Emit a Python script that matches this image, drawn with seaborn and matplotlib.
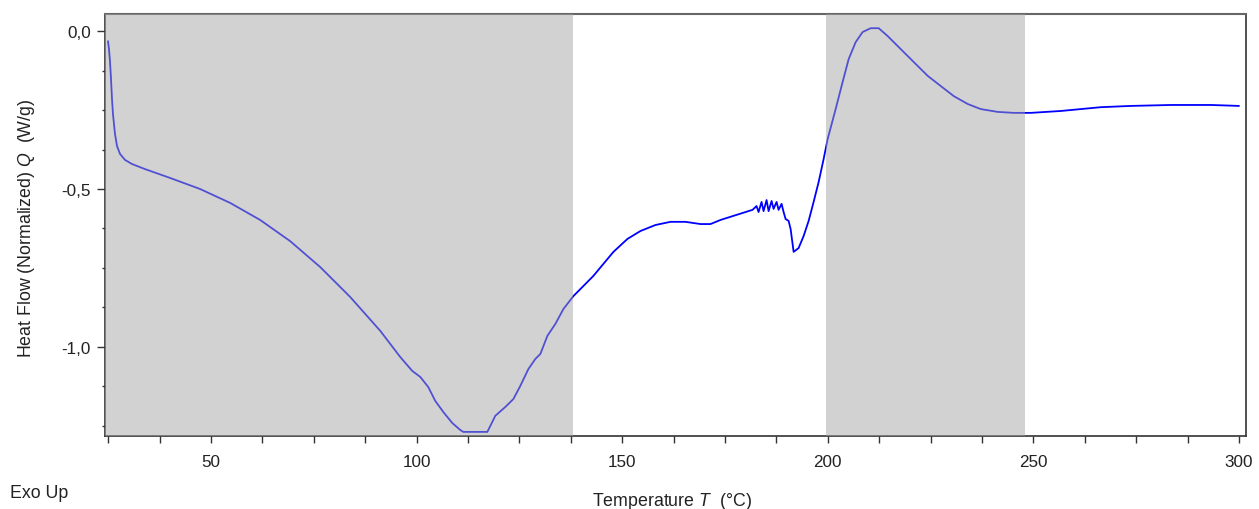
import matplotlib
matplotlib.use("Agg")
import matplotlib.pyplot as plt
import matplotlib.ticker as mticker
import seaborn as sns
import pandas as pd

# ---- data ----
temperature = [24.93, 25.17, 25.41, 25.66, 25.90, 26.14, 26.63, 27.12, 27.85, 29.07,
               30.77, 33.93, 40.02, 47.32, 54.63, 61.93, 69.23, 76.53, 83.84, 91.14,
               96.01, 98.93, 100.88, 102.82, 104.53, 106.48, 108.67, 110.61, 111.34, 117.19,
               119.13, 121.57, 123.52, 125.22, 127.17, 128.87, 130.09, 131.79, 133.74, 135.69,
               138.12, 140.56, 142.99, 145.42, 147.86, 151.27, 154.43, 158.08, 161.73, 165.38,
               169.03, 171.46, 173.90, 177.06, 179.98, 181.69, 182.66, 183.15, 183.88, 184.37,
               185.10, 185.59, 186.32, 186.80, 187.53, 188.02, 188.75, 189.24, 189.73, 190.46,
               190.95, 191.68, 192.89, 194.11, 195.33, 196.54, 197.76, 198.98, 199.95, 201.90,
               203.60, 205.06, 206.77, 208.47, 210.42, 212.37, 214.56, 217.72, 220.89, 224.30,
               227.46, 230.63, 234.03, 237.20, 241.33, 245.23, 249.37, 256.67, 266.41, 273.71,
               283.45, 293.18, 300.00]
heat_flow = [-0.032, -0.057, -0.095, -0.152, -0.215, -0.263, -0.326, -0.364, -0.389, -0.408,
             -0.421, -0.437, -0.465, -0.500, -0.544, -0.598, -0.665, -0.747, -0.842, -0.949,
             -1.032, -1.076, -1.095, -1.127, -1.171, -1.206, -1.241, -1.263, -1.269, -1.269,
             -1.218, -1.190, -1.165, -1.123, -1.070, -1.038, -1.022, -0.965, -0.927, -0.880,
             -0.839, -0.807, -0.775, -0.737, -0.699, -0.658, -0.633, -0.614, -0.604, -0.604,
             -0.611, -0.611, -0.598, -0.585, -0.573, -0.566, -0.554, -0.573, -0.541, -0.570,
             -0.535, -0.570, -0.538, -0.563, -0.541, -0.566, -0.547, -0.573, -0.595, -0.601,
             -0.627, -0.699, -0.687, -0.649, -0.601, -0.541, -0.478, -0.405, -0.342, -0.247,
             -0.161, -0.089, -0.035, -0.003, 0.009, 0.009, -0.016, -0.057, -0.098, -0.142,
             -0.174, -0.206, -0.231, -0.247, -0.256, -0.259, -0.259, -0.253, -0.241, -0.237,
             -0.234, -0.234, -0.237]
shaded_regions = [(24.2, 137.9), (199.5, 247.9)]
x_major_ticks = [50, 100, 150, 200, 250, 300]
y_major_ticks = [0.0, -0.5, -1.0]

sns.set_style("ticks")
plt.rcParams["font.family"] = ["Liberation Sans", "DejaVu Sans"]
plt.rcParams["mathtext.fontset"] = "custom"
plt.rcParams["mathtext.it"] = "Liberation Sans:italic"
plt.rcParams["mathtext.rm"] = "Liberation Sans"

fig = plt.figure(figsize=(12.59, 5.10), dpi=100)
ax = fig.add_axes([105 / 1259, 1 - 437 / 510, (1246 - 105) / 1259, (437 - 15) / 510])

df = pd.DataFrame({"T": temperature, "Q": heat_flow})
sns.lineplot(data=df, x="T", y="Q", ax=ax, color="#0000ff", linewidth=1.3,
             sort=False, estimator=None, zorder=2)

for a, b in shaded_regions:
    ax.axvspan(a, b, color="#a5a5a5", alpha=0.49, lw=0, zorder=3)

ax.set_xlim(24.2, 301.7)
ax.set_ylim(-1.282, 0.054)

ax.xaxis.set_major_locator(mticker.FixedLocator(x_major_ticks))
ax.xaxis.set_minor_locator(mticker.MultipleLocator(12.5))
ax.yaxis.set_major_locator(mticker.FixedLocator(y_major_ticks))
ax.yaxis.set_minor_locator(mticker.MultipleLocator(0.125))
ax.yaxis.set_major_formatter(mticker.FuncFormatter(lambda v, p: f"{v:.1f}".replace(".", ",").replace("-0,0", "0,0")))
ax.xaxis.set_major_formatter(mticker.FuncFormatter(lambda v, p: f"{v:.0f}"))

ax.tick_params(axis="x", which="both", direction="out", length=5, width=1, color="#333333",
               labelsize=12.3, pad=8, labelcolor="#222222")
ax.tick_params(axis="y", which="major", direction="out", length=6, width=1, color="#333333",
               labelsize=12.3, pad=4, labelcolor="#222222")
ax.tick_params(axis="y", which="minor", direction="out", length=2.5, width=1, color="#333333")

for side in ["left", "bottom", "right"]:
    ax.spines[side].set_color("#333333")
    ax.spines[side].set_linewidth(1.2)
ax.spines["top"].set_color("#666666")
ax.spines["top"].set_linewidth(1.5)

ax.set_xlabel("")
ax.set_ylabel("")
fig.text(27 / 1259, 1 - 228 / 510, "Heat Flow (Normalized) $Q$  (W/g)", rotation=90,
         ha="center", va="center", fontsize=12.8, color="#222222")
fig.text(672 / 1259, 1 - 502 / 510, "Temperature $T$  (°C)", ha="center", va="center",
         fontsize=12.8, color="#222222")
fig.text(10 / 1259, 1 - 494 / 510, "Exo Up", ha="left", va="center", fontsize=12.8, color="#222222")

fig.savefig("out.png", dpi=100)
